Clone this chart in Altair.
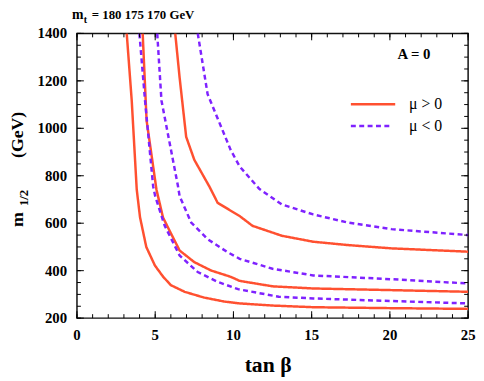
import altair as alt
import pandas as pd

# ---- data ----
signs = ["μ > 0", "μ < 0"]

r1_x = [3.18, 3.5, 3.82, 4.03, 4.43, 4.98, 5.5, 6.0, 6.88, 8.1, 9.4, 10.4, 12.5, 15.1, 20.1, 25]
r1_y = [1400, 1117, 742, 625, 500, 422, 375, 339, 311, 287, 270, 262, 253, 246, 242, 239]

r2_x = [4.2, 4.45, 5.08, 5.5, 6.03, 6.56, 7.5, 8.56, 9.83, 10.4, 12.5, 15.1, 20.1, 25]
r2_y = [1400, 1033, 742, 624, 554, 485, 436, 401, 374, 357, 334, 325, 318, 311]

r3_x = [6.28, 6.56, 6.98, 7.5, 8.46, 8.99, 10.4, 11.22, 13.1, 15.1, 17.3, 20.1, 25]
r3_y = [1400, 1214, 964, 867, 755, 686, 630, 589, 547, 522, 508, 494, 480]

d1_x = [3.99, 4.35, 4.87, 5.0, 5.61, 6.56, 7.72, 8.99, 10.3, 12.9, 15.1, 20.1, 25]
d1_y = [1400, 1117, 755, 714, 589, 464, 394, 353, 322, 290, 283, 272, 262]

d2_x = [5.13, 5.4, 6.46, 6.56, 7.3, 8.35, 9.62, 10.4, 12.5, 15.1, 20.1, 25]
d2_y = [1400, 1117, 755, 714, 603, 533, 478, 450, 408, 380, 364, 346]

d3_x = [7.72, 8.35, 9.83, 10.4, 11.65, 13.1, 15.1, 17.3, 20.1, 25]
d3_y = [1400, 1144, 908, 839, 745, 679, 637, 603, 575, 550]

x_labels = [0, 5, 10, 15, 20, 25]
x_minor = list(range(0, 26))
y_labels = [200, 400, 600, 800, 1000, 1200, 1400]
y_minor = list(range(200, 1401, 50))

curves = [
    ("r1", signs[0], r1_x, r1_y),
    ("r2", signs[0], r2_x, r2_y),
    ("r3", signs[0], r3_x, r3_y),
    ("d1", signs[1], d1_x, d1_y),
    ("d2", signs[1], d2_x, d2_y),
    ("d3", signs[1], d3_x, d3_y),
]
rows = []
for name, sign, xs, ys in curves:
    for xv, yv in zip(xs, ys):
        rows.append({"curve": name, "sign": sign, "tanb": xv, "m12": yv})
df = pd.DataFrame(rows)

RED = "#ff5030"
PURPLE = "#7f22ff"
FONT = "Liberation Serif, Times New Roman, DejaVu Serif, serif"
W, H = 397, 289

xscale = alt.Scale(domain=[0, 25], nice=False, zero=False)
yscale = alt.Scale(domain=[200, 1400], nice=False, zero=False)

lines = alt.Chart(df).mark_line(strokeWidth=2.5, clip=True).encode(
    x=alt.X("tanb:Q", scale=xscale, axis=None),
    y=alt.Y("m12:Q", scale=yscale, axis=None),
    color=alt.Color("sign:N", scale=alt.Scale(domain=signs, range=[RED, PURPLE]), legend=None),
    strokeDash=alt.StrokeDash("sign:N", scale=alt.Scale(domain=signs, range=[[1, 0], [5, 3.5]]), legend=None),
    detail="curve:N",
)

# tick labels as text marks placed through the scales
xlab = alt.Chart(pd.DataFrame({"v": x_labels})).mark_text(
    font=FONT, fontSize=15, fontWeight="bold", color="black", baseline="top", align="center"
).encode(x=alt.X("v:Q", scale=xscale, axis=None), y=alt.value(H + 10), text=alt.Text("v:Q", format="d"))

ylab = alt.Chart(pd.DataFrame({"v": y_labels})).mark_text(
    font=FONT, fontSize=15, fontWeight="bold", color="black", baseline="middle", align="right"
).encode(y=alt.Y("v:Q", scale=yscale, axis=None), x=alt.value(-10), text=alt.Text("v:Q", format="d"))


def xticks(vals, length, top):
    d = pd.DataFrame({"v": vals})
    if top:
        yy, yy2 = 0, length
    else:
        yy, yy2 = H, H - length
    return alt.Chart(d).mark_rule(color="black", strokeWidth=1).encode(
        x=alt.X("v:Q", scale=xscale, axis=None),
        y=alt.value(yy), y2=alt.value(yy2))


def yticks(vals, length, right):
    d = pd.DataFrame({"v": vals})
    if right:
        xx, xx2 = W, W - length
    else:
        xx, xx2 = 0, length
    return alt.Chart(d).mark_rule(color="black", strokeWidth=1).encode(
        y=alt.Y("v:Q", scale=yscale, axis=None),
        x=alt.value(xx), x2=alt.value(xx2))


ticks = [
    xticks(x_minor, 4, False), xticks(x_minor, 4, True),
    xticks(x_labels, 7, False), xticks(x_labels, 7, True),
    yticks(y_minor, 4, False), yticks(y_minor, 4, True),
    yticks(y_labels, 7, False), yticks(y_labels, 7, True),
]

one = pd.DataFrame({"a": [0]})


def txt(text, x, y, size, weight="bold", angle=None, align="left", baseline="alphabetic", color="black"):
    kw = dict(text=text, font=FONT, fontSize=size, fontWeight=weight, align=align,
              baseline=baseline, color=color)
    if angle is not None:
        kw["angle"] = angle
    return alt.Chart(one).mark_text(**kw).encode(x=alt.value(x), y=alt.value(y))


texts = [
    # top title
    txt("m", -5, -15, 14),
    txt("t", 7, -11, 10),
    txt("= 180 175 170 GeV", 15, -15, 13),
    # x title
    txt("tan β", 194, 344, 22, align="center"),
    # y title pieces (rotated, reading upward)
    txt("(GeV)", -55, 103, 18, angle=270, align="center"),
    txt("m", -55, 189, 18, angle=270, align="center"),
    txt("1/2", -50, 167, 13, angle=270, align="center"),
    # annotation
    txt("A = 0", 342, 21, 15, align="center", baseline="middle"),
    # legend labels
    txt("μ > 0", 337, 72, 16, weight="normal", baseline="middle"),
    txt("μ < 0", 337, 94, 16, weight="normal", baseline="middle"),
]

legend_lines = [
    alt.Chart(one).mark_rule(color=RED, strokeWidth=2.5).encode(
        x=alt.value(278), x2=alt.value(323), y=alt.value(72)),
    alt.Chart(one).mark_rule(color=PURPLE, strokeWidth=2.5, strokeDash=[5, 3.5]).encode(
        x=alt.value(278), x2=alt.value(320), y=alt.value(94)),
]

chart = alt.layer(lines, xlab, ylab, *ticks, *texts, *legend_lines).properties(
    width=W, height=H,
    autosize="none",
    padding={"left": 70, "top": 23, "right": 8, "bottom": 58},
).configure_view(stroke="#111", strokeWidth=1.5)

chart.save("out.html", embed_options={"renderer": "svg", "actions": False})
